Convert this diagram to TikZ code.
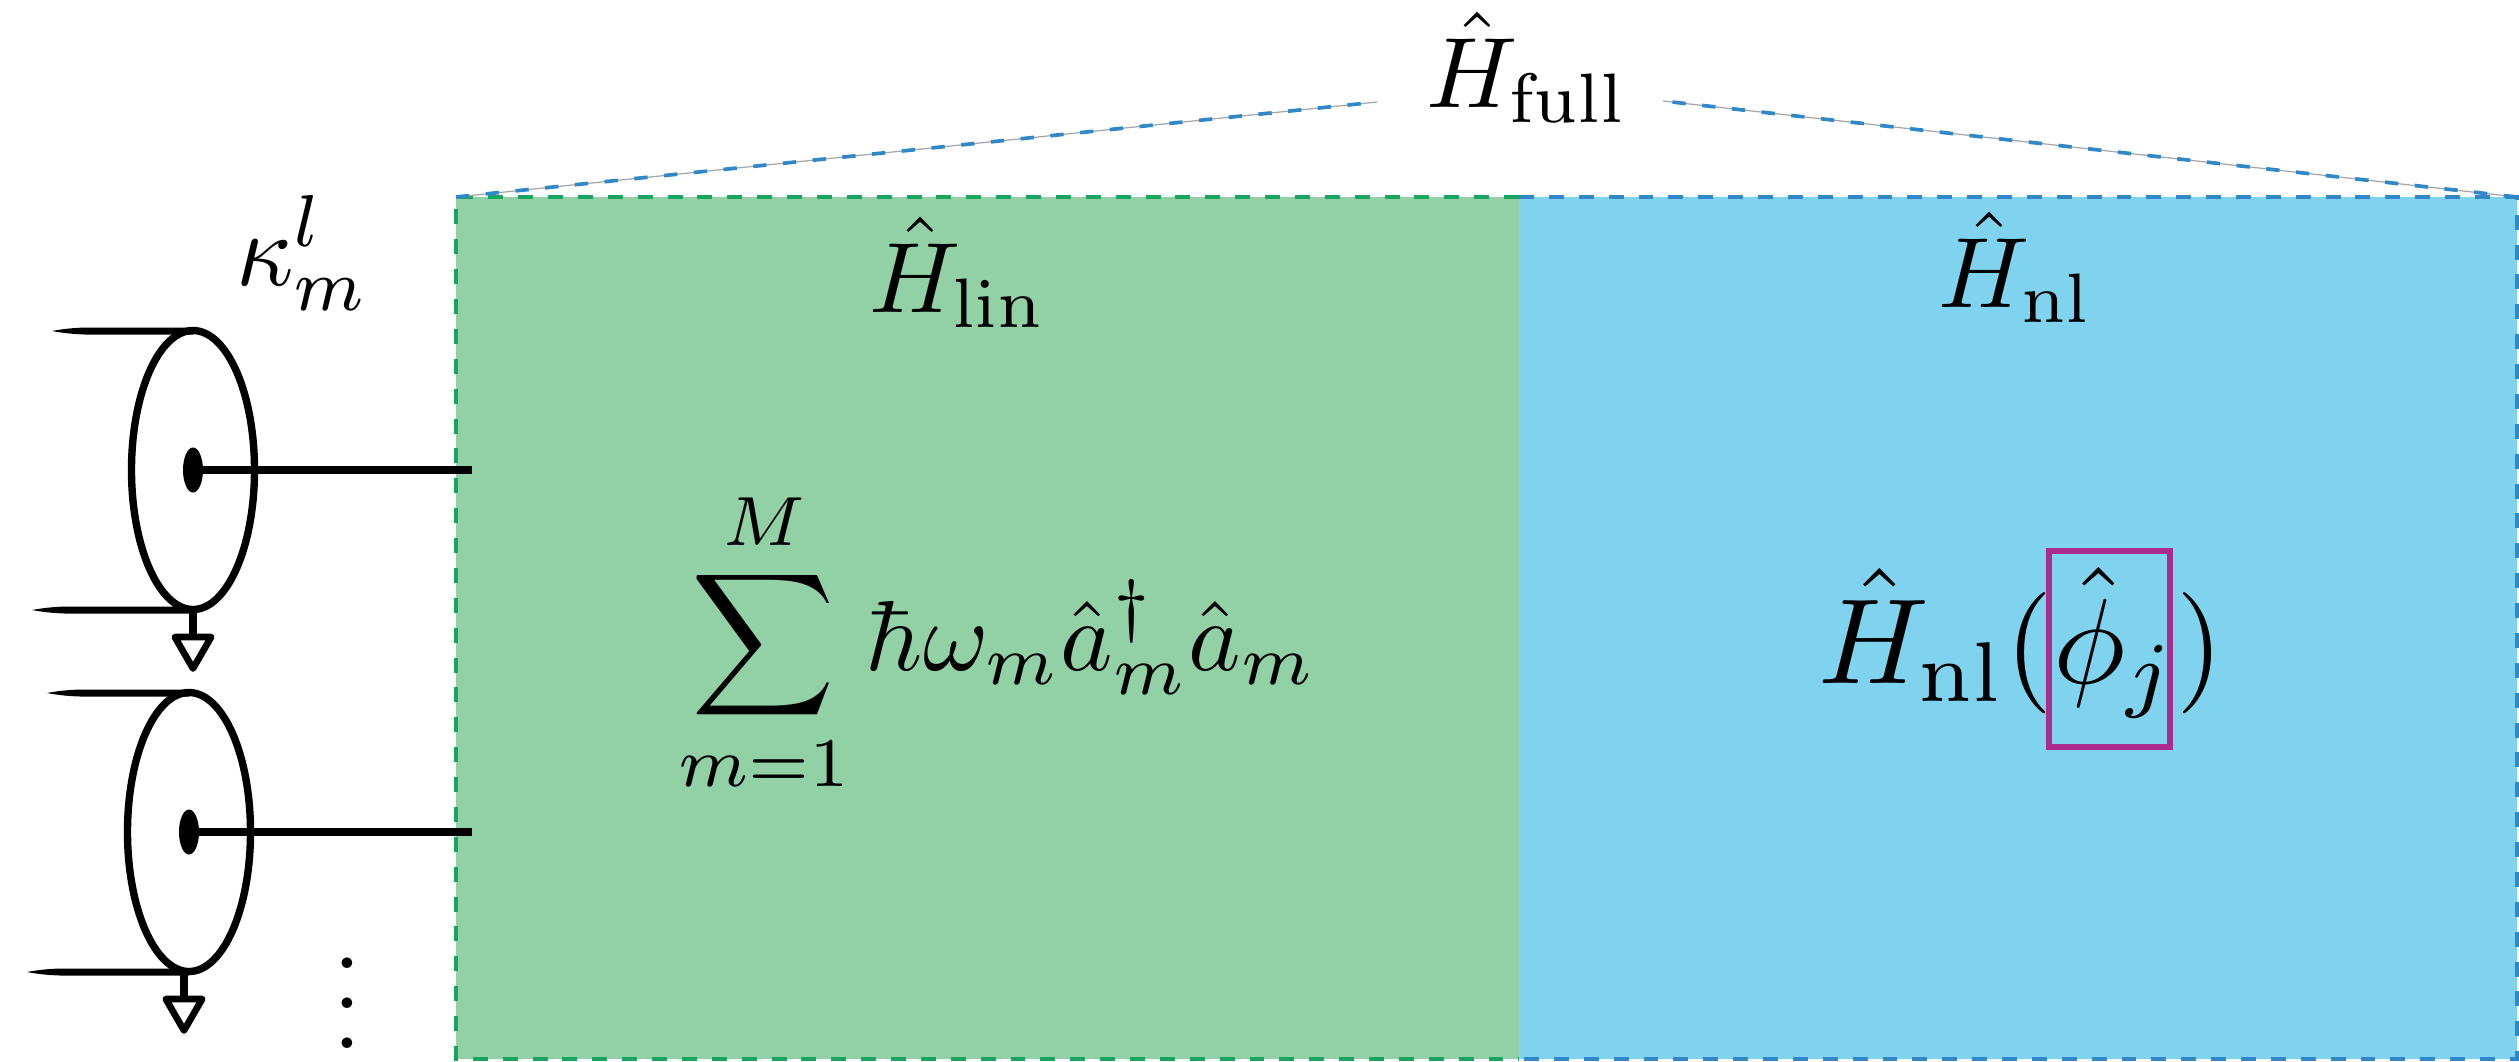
\documentclass[tikz,border=0pt]{standalone}
\usetikzlibrary{shapes.geometric}
\definecolor{linfill}{HTML}{92D0A5}
\definecolor{nlfill}{HTML}{7FD3EE}
\definecolor{lindash}{HTML}{18A55F}
\definecolor{nldash}{HTML}{3088C8}
\definecolor{boxpink}{HTML}{AA2A8E}
\begin{document}
\begin{tikzpicture}[x=1cm,y=1cm,
  term/.style={anchor=base west, inner sep=0pt, outer sep=0pt, scale=2.845},
  bigterm/.style={anchor=base west, inner sep=0pt, outer sep=0pt, scale=3.45},
  block/.style={anchor=north west, inner sep=0pt, outer sep=0pt, minimum height=8.62cm},
  edge/.style={line width=1.15pt, dash pattern=on 4.25pt off 4.25pt},
  res/.style={draw, ellipse, inner sep=0pt, outer sep=0pt, minimum width=1.23cm, minimum height=2.79cm, line width=2.1pt},
  pin/.style={fill, ellipse, inner sep=0pt, outer sep=0pt, minimum width=0.2cm, minimum height=0.45cm},
  gnd/.style={draw, regular polygon, regular polygon sides=3, shape border rotate=180, inner sep=0pt, outer sep=0pt, minimum size=0.42cm, line width=1.9pt, line join=round},
  wire/.style={line width=2.1pt},
  guide/.style={line width=0.35pt, gray!70},
  guidedash/.style={line width=1.05pt, nldash, dash pattern=on 3.8pt off 4.7pt}]
\useasboundingbox (0,0) rectangle (25.19,-10.61);
\node[block, fill=linfill, minimum width=10.63cm] (lin) at (4.56,-1.97) {};
\node[block, fill=nlfill, minimum width=9.98cm] (nl) at (lin.north east) {};
\draw[edge, lindash] (lin.north east) -- (lin.north west) -- (lin.south west) -- (lin.south east);
\draw[edge, nldash] (nl.north west) -- (nl.north east) -- (nl.south east) -- (nl.south west);
\coordinate (fullleft) at (13.77,-1.02);
\coordinate (fullright) at (16.63,-1.01);
\draw[guide] (lin.north west) -- (fullleft);
\draw[guidedash] (lin.north west) -- (fullleft);
\draw[guide] (nl.north east) -- (fullright);
\draw[guidedash] (nl.north east) -- (fullright);
\node[term] (full) at (14.26,-1.07) {$\hat{H}_{\mathrm{full}}$};
\node[term] (hlin) at (8.69,-3.12) {$\hat{H}_{\mathrm{lin}}$};
\node[term] (hnl) at (19.38,-3.07) {$\hat{H}_{\mathrm{nl}}$};
\node[term, scale=0.995] (sum) at (6.78,-6.70) {$\displaystyle\sum_{m=1}^{M}\hbar\omega_m\hat{a}^{\dagger}_m\hat{a}_m$};
\node[bigterm] (nlphi) at (18.18,-6.83) {$\hat{H}_{\mathrm{nl}}(\hat{\phi}_j)$};
\node[draw=boxpink, line width=1.6pt, inner sep=0pt, outer sep=0pt, minimum width=1.21cm, minimum height=1.96cm] (phibox) at (21.095,-6.49) {};
\node[term, yscale=1.05] (kappa) at (2.36,-2.85) {$\kappa_m^l$};
\node[res] (res1) at (1.93,-4.70) {};
\node[pin] (pin1) at (1.93,-4.70) {};
\node[gnd] (gnd1) at (1.93,-6.475) {};
\coordinate (link1) at (4.72,-4.70);
\draw[wire] (pin1) -- (link1);
\draw[wire] (res1.south) -- (gnd1.north);
\fill (1.93,-3.275) -- (0.85,-3.275) .. controls (0.7,-3.28) and (0.6,-3.295) .. (0.52,-3.31) .. controls (0.6,-3.325) and (0.7,-3.34) .. (0.85,-3.345) -- (1.93,-3.345) -- cycle;
\fill (1.93,-6.065) -- (0.65,-6.065) .. controls (0.5,-6.07) and (0.4,-6.085) .. (0.32,-6.10) .. controls (0.4,-6.115) and (0.5,-6.13) .. (0.65,-6.135) -- (1.93,-6.135) -- cycle;
\node[res] (res2) at (1.89,-8.32) {};
\node[pin] (pin2) at (1.89,-8.32) {};
\node[gnd] (gnd2) at (1.84,-10.095) {};
\coordinate (link2) at (4.72,-8.32);
\draw[wire] (pin2) -- (link2);
\draw[wire] (gnd2.north |- res2.south) -- (gnd2.north);
\fill (1.89,-6.895) -- (0.80,-6.895) .. controls (0.65,-6.90) and (0.55,-6.915) .. (0.47,-6.93) .. controls (0.55,-6.945) and (0.65,-6.96) .. (0.80,-6.965) -- (1.89,-6.965) -- cycle;
\fill (1.89,-9.685) -- (0.60,-9.685) .. controls (0.45,-9.69) and (0.35,-9.705) .. (0.27,-9.72) .. controls (0.35,-9.735) and (0.45,-9.75) .. (0.60,-9.755) -- (1.89,-9.755) -- cycle;
\node[term, anchor=center] (more) at (3.47,-9.73) {$\vdots$};
\end{tikzpicture}
\end{document}
